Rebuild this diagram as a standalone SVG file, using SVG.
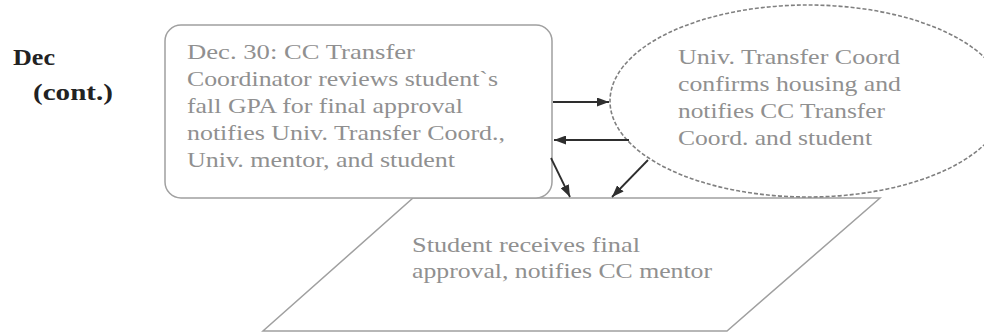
<svg xmlns="http://www.w3.org/2000/svg" width="984" height="333" viewBox="0 0 984 333">
  <style>
    .bg { fill: #ffffff; }
    .shape { fill: none; stroke: #a0a0a0; stroke-width: 1.5; }
    .box { fill: #ffffff; stroke: #a0a0a0; stroke-width: 1.5; }
    .dashed { fill: none; stroke: #808080; stroke-width: 1.6; stroke-dasharray: 4 2; }
    .txt { font-family: "Liberation Serif", "Times New Roman", serif; font-size: 22px; fill: #909090; }
    .lbl { font-family: "Liberation Serif", "Times New Roman", serif; font-size: 23px; font-weight: bold; fill: #222222; }
    .conn { fill: none; stroke: #2e2e2e; stroke-width: 1.8; }
  </style>
  <defs>
    <marker id="arrow" viewBox="0 0 12 9" refX="12" refY="4.5" markerWidth="12" markerHeight="9" markerUnits="userSpaceOnUse" orient="auto">
      <path d="M0,0 L12,4.5 L0,9 z" fill="#2e2e2e"/>
    </marker>
  </defs>
  <rect class="bg" x="0" y="0" width="984" height="333"/>

  <g id="label-dec">
    <text class="lbl" x="13" y="65" textLength="42" lengthAdjust="spacingAndGlyphs">Dec</text>
    <text class="lbl" x="33" y="100" textLength="80" lengthAdjust="spacingAndGlyphs">(cont.)</text>
  </g>

  <g id="node-student">
    <polygon class="shape" points="413,198 880,198 727,331 263,331"/>
    <text class="txt" x="412" y="252" textLength="228" lengthAdjust="spacingAndGlyphs">Student receives final</text>
    <text class="txt" x="412" y="278" textLength="300" lengthAdjust="spacingAndGlyphs">approval, notifies CC mentor</text>
  </g>

  <g id="node-cc-coordinator">
    <rect class="box" x="165" y="25" width="387" height="173" rx="16" ry="16"/>
    <text class="txt" x="187" y="59" textLength="228" lengthAdjust="spacingAndGlyphs">Dec. 30: CC Transfer</text>
    <text class="txt" x="187" y="86" textLength="311" lengthAdjust="spacingAndGlyphs">Coordinator reviews student`s</text>
    <text class="txt" x="187" y="113" textLength="276" lengthAdjust="spacingAndGlyphs">fall GPA for final approval</text>
    <text class="txt" x="187" y="140" textLength="318" lengthAdjust="spacingAndGlyphs">notifies Univ. Transfer Coord.,</text>
    <text class="txt" x="187" y="167" textLength="268" lengthAdjust="spacingAndGlyphs">Univ. mentor, and student</text>
  </g>

  <g id="node-univ-coordinator">
    <ellipse class="dashed" cx="808" cy="101" rx="198" ry="96"/>
    <text class="txt" x="678" y="64" textLength="222" lengthAdjust="spacingAndGlyphs">Univ. Transfer Coord</text>
    <text class="txt" x="678" y="91" textLength="223" lengthAdjust="spacingAndGlyphs">confirms housing and</text>
    <text class="txt" x="678" y="118" textLength="207" lengthAdjust="spacingAndGlyphs">notifies CC Transfer</text>
    <text class="txt" x="678" y="145" textLength="194" lengthAdjust="spacingAndGlyphs">Coord. and student</text>
  </g>

  <g id="connectors">
    <line class="conn" x1="553" y1="102" x2="609" y2="102" marker-end="url(#arrow)"/>
    <line class="conn" x1="629" y1="140" x2="554" y2="140" marker-end="url(#arrow)"/>
    <line class="conn" x1="551" y1="158" x2="570" y2="197" marker-end="url(#arrow)"/>
    <line class="conn" x1="648" y1="160" x2="612" y2="197" marker-end="url(#arrow)"/>
  </g>
</svg>
